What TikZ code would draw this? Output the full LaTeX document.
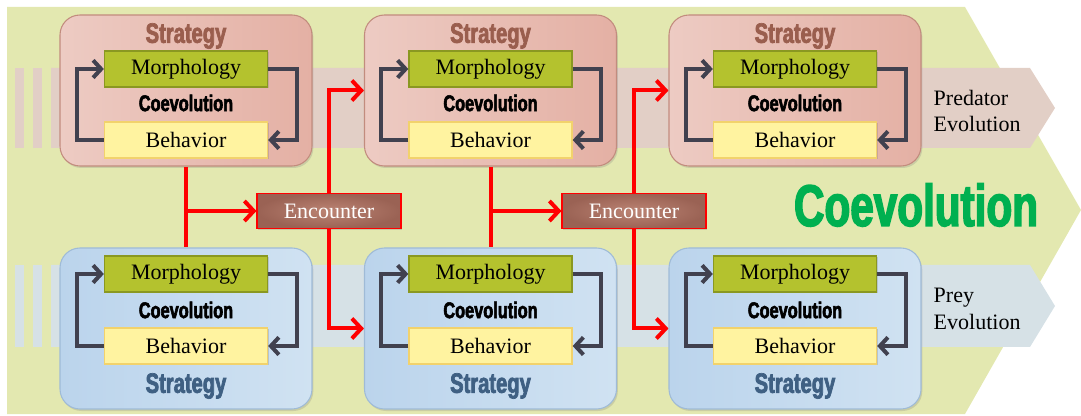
\documentclass[tikz,border=0pt]{standalone}
\usepackage{fontspec}
\setmainfont{Liberation Serif}
\newfontfamily\impactfont[FakeStretch=0.72,FakeBold=2.5]{Liberation Sans}
\usepackage{xcolor}
\usepackage{tikz}
\usetikzlibrary{arrows.meta, positioning, calc, shadows}
\definecolor{bgreen}{HTML}{E3E8B0}
\definecolor{predband}{HTML}{E2CFC6}
\definecolor{preyband}{HTML}{D6E1E6}
\definecolor{predfill}{HTML}{E4B0A4}
\definecolor{predlight}{HTML}{EDCBC3}
\definecolor{predline}{HTML}{C28C7E}
\definecolor{preyfill}{HTML}{BBD4EC}
\definecolor{preylight}{HTML}{D0E2F2}
\definecolor{preyline}{HTML}{9FBBD7}
\definecolor{morphfill}{HTML}{B4C22E}
\definecolor{morphline}{HTML}{8A9821}
\definecolor{behavfill}{HTML}{FFF3A0}
\definecolor{behavline}{HTML}{F2D26C}
\definecolor{encdark}{HTML}{9A6254}
\definecolor{enclight}{HTML}{BC8474}
\definecolor{loopgray}{HTML}{41414F}
\definecolor{predtext}{HTML}{9A5E4E}
\definecolor{preytext}{HTML}{3F6083}
\definecolor{coevgreen}{HTML}{00B050}

\begin{document}
\begin{tikzpicture}[x=0.75pt, y=-0.75pt,
  txt/.style={font=\fontsize{16.5}{20}\selectfont},
  strat/.style={rectangle, rounded corners=15pt, minimum width=189pt, line width=0.8pt, drop shadow={opacity=0.25, shadow xshift=1pt, shadow yshift=-1.5pt}},
  predbox/.style={strat, draw=predline, left color=predlight, right color=predfill, minimum height=113.25pt},
  preybox/.style={strat, draw=preyline, left color=preyfill, right color=preylight, minimum height=120.75pt},
  morph/.style={txt, rectangle, draw=morphline, fill=morphfill, line width=1pt, minimum width=122.25pt, minimum height=27pt, inner sep=0pt, drop shadow={opacity=0.3, shadow xshift=1pt, shadow yshift=-1pt}},
  behav/.style={morph, draw=behavline, fill=behavfill},
  enc/.style={txt, rectangle, draw=red, line width=0.8pt, inner color=enclight, outer color=encdark, text=white, minimum width=108pt, minimum height=26.25pt, inner sep=0pt, drop shadow={opacity=0.3, shadow xshift=1pt, shadow yshift=-1pt}},
  coev/.style={font=\impactfont\bfseries\fontsize{17}{17}\selectfont},
  stratlbl/.style={font=\impactfont\bfseries\fontsize{21}{21}\selectfont},
  fbarrow/.style={draw=loopgray, line width=3pt, -{Straight Barb[length=6pt,width=13pt]}},
  redline/.style={draw=red, line width=3pt},
  redarrow/.style={redline, -{Straight Barb[length=7pt,width=15pt]}}
]
  \useasboundingbox (0,0) rectangle (1081,416);

  % Background
  \fill[bgreen] (7,7) -- (965,7) -- (1081,210) -- (965,414) -- (7,414) -- cycle;
  \foreach \y/\h/\c in {68/80/predband, 265/82/preyband} {
    \fill[\c] (15,\y) rectangle (24,\y+\h);
    \fill[\c] (33,\y) rectangle (42,\y+\h);
    \fill[\c] (51,\y) -- (1030,\y) -- (1055,\y+\h/2) -- (1030,\y+\h) -- (51,\y+\h) -- cycle;
  }

  % Strategies
  \foreach \i in {0,1,2} {
    \pgfmathsetmacro{\cx}{186+304.5*\i}
    % predator
    \node[predbox] (pred\i) at (\cx, 90.5) {};
    \node[stratlbl, text=predtext] (plbl\i) at (\cx, 36) {Strategy};
    \node[morph] (pm\i) at (\cx, 69) {Morphology};
    \node[behav] (pb\i) at (\cx, 140) {Behavior};
    \node[coev] (pc\i) at (\cx, 103) {Coevolution};
    \draw[fbarrow] (pm\i.east) -- ++(28.5,0) |- (pb\i.east);
    \draw[fbarrow] (pb\i.west) -- ++(-27,0) |- (pm\i.west);
    % prey
    \node[preybox] (prey\i) at (\cx, 328.5) {};
    \node[stratlbl, text=preytext] (qlbl\i) at (\cx, 386) {Strategy};
    \node[morph] (qm\i) at (\cx, 274) {Morphology};
    \node[behav] (qb\i) at (\cx, 346) {Behavior};
    \node[coev] (qc\i) at (\cx, 310) {Coevolution};
    \draw[fbarrow] (qm\i.east) -- ++(28.5,0) |- (qb\i.east);
    \draw[fbarrow] (qb\i.west) -- ++(-27,0) |- (qm\i.west);
  }

  % Encounters
  \foreach \i/\j in {0/1, 1/2} {
    \pgfmathsetmacro{\ex}{329+305*\i}
    \node[enc] (enc\i) at (\ex, 211) {Encounter};
    \draw[redline] (pred\i.south) -- (prey\i.north);
    \draw[redarrow] (pred\i.south |- enc\i.west) -- (enc\i.west);
    \draw[redarrow] (enc\i.north) |- (pred\j.west);
    \draw[redarrow] (enc\i.south) |- (prey\j.west);
  }

  % Labels
  \node[txt, align=left, anchor=west] (predevo) at (929, 111) {Predator\\Evolution};
  \node[txt, align=left, anchor=west] (preyevo) at (929, 309) {Prey\\Evolution};
  \node[font=\impactfont\bfseries\fontsize{44}{44}\selectfont, text=coevgreen] (coevo) at (916, 205) {Coevolution};
\end{tikzpicture}
\end{document}
